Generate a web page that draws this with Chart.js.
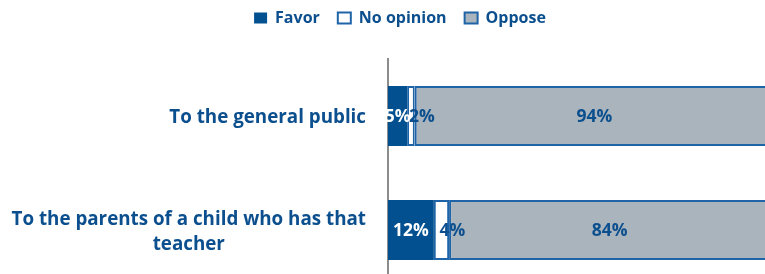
<!DOCTYPE html>
<html><head><meta charset="utf-8">
<script src="https://cdn.jsdelivr.net/npm/chart.js@4/dist/chart.umd.min.js"></script>
<style>html,body{margin:0;padding:0;background:#fff;overflow:hidden;width:765px;height:274px}</style>
</head><body>
<div style="width:800px;height:300px"><canvas id="c" width="800" height="300"></canvas></div>
<script>
const categories = [['To the general public'], ['To the parents of a child who has that', 'teacher']];
const seriesNames = ['Favor', 'No opinion', 'Oppose'];
const favor = [5, 12];
const noOpinion = [2, 4];
const oppose = [94, 84];

const BLUE = '#02508f';
const TEXT = '#0c4f8e';
const BORDER = '#2064a8';
const GRAY = '#a9b4bc';
const FONT = '"Open Sans"';

const barLabels = {
  id: 'barLabels',
  afterDatasetsDraw(chart) {
    const ctx = chart.ctx;
    ctx.save();
    ctx.font = 'bold 17.5px ' + FONT;
    ctx.textAlign = 'center';
    ctx.textBaseline = 'middle';
    chart.data.datasets.forEach((ds, di) => {
      const meta = chart.getDatasetMeta(di);
      meta.data.forEach((el, i) => {
        const p = el.getProps(['x', 'y', 'base'], true);
        ctx.fillStyle = di === 0 ? '#ffffff' : TEXT;
        const shift = di === 1 ? 11 : 0;
        ctx.fillText(ds.data[i] + '%', (p.x + p.base) / 2 + shift, p.y + 1);
      });
    });
    ctx.restore();
  }
};

const catLabels = {
  id: 'catLabels',
  afterDraw(chart) {
    const ctx = chart.ctx;
    const ys = chart.scales.y;
    ctx.save();
    ctx.font = 'bold 18.8px ' + FONT;
    ctx.fillStyle = TEXT;
    ctx.textAlign = 'center';
    ctx.textBaseline = 'middle';
    const rightX = ys.right - 22;
    const lh = 25;
    chart.data.labels.forEach((lines, i) => {
      const y = ys.getPixelForTick(i) + 2;
      const w = Math.max(...lines.map(l => ctx.measureText(l).width));
      const cx = rightX - w / 2;
      const y0 = y - (lines.length - 1) * lh / 2;
      lines.forEach((l, k) => ctx.fillText(l, cx, y0 + k * lh));
    });
    ctx.restore();
  }
};

new Chart(document.getElementById('c'), {
  type: 'bar',
  data: {
    labels: categories,
    datasets: [
      { label: seriesNames[0], data: favor, backgroundColor: BLUE, borderColor: BLUE, borderWidth: 0, borderSkipped: false },
      { label: seriesNames[1], data: noOpinion, backgroundColor: '#ffffff', borderColor: BORDER, borderWidth: 2, borderSkipped: false },
      { label: seriesNames[2], data: oppose, backgroundColor: GRAY, borderColor: BORDER, borderWidth: 2, borderSkipped: false }
    ]
  },
  options: {
    indexAxis: 'y',
    responsive: false,
    animation: false,
    layout: { padding: { top: -8, right: 30, bottom: 13, left: 30 } },
    datasets: { bar: { barPercentage: 0.526, categoryPercentage: 1 } },
    scales: {
      x: {
        stacked: true, min: 0, max: 100, position: 'top',
        grid: { display: false, drawTicks: false },
        border: { display: false },
        ticks: { display: false },
        afterFit(s) { s.height = 23; }
      },
      y: {
        stacked: true,
        grid: { display: false, drawTicks: false },
        border: { display: true, color: '#8c8c8c', width: 2 },
        ticks: { display: false },
        afterFit(s) { s.width = 358; }
      }
    },
    plugins: {
      legend: {
        position: 'top',
        labels: {
          boxWidth: 13, boxHeight: 11, padding: 18,
          color: TEXT,
          font: { family: 'Open Sans', size: 16, weight: 'bold' }
        }
      },
      tooltip: { enabled: false }
    }
  },
  plugins: [barLabels, catLabels]
});
</script>
</body></html>
